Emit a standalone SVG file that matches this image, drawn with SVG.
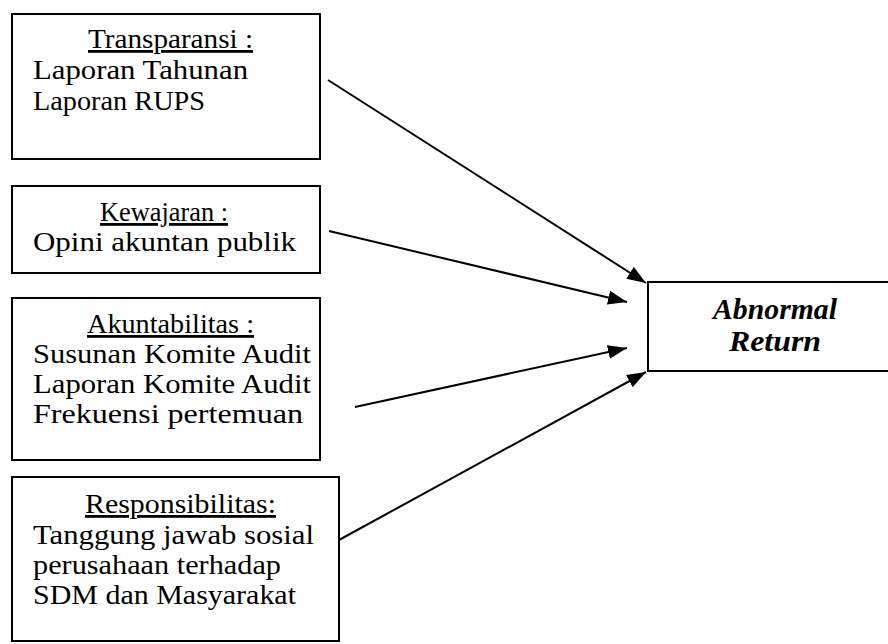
<svg xmlns="http://www.w3.org/2000/svg" width="888" height="644" viewBox="0 0 888 644">
<style>
.box{fill:#fff;stroke:#000;stroke-width:2}
.t{font-family:"Liberation Serif","Times New Roman",serif;font-size:28px;fill:#000}
.h{text-decoration:underline}
.ab{font-family:"Liberation Serif","Times New Roman",serif;font-size:29px;font-weight:bold;font-style:italic;fill:#000}
.c{fill:none;stroke:#000;stroke-width:2}
</style>
<defs>
<marker id="ah" markerUnits="userSpaceOnUse" markerWidth="20" markerHeight="14" refX="19" refY="7" orient="auto">
<path d="M0,0 L19,7 L0,14 Z" fill="#000"/>
</marker>
</defs>
<rect width="888" height="644" fill="#fff"/>
<g id="connectors">
<line class="c" x1="328" y1="80" x2="646" y2="283" marker-end="url(#ah)"/>
<line class="c" x1="329" y1="231" x2="627" y2="302" marker-end="url(#ah)"/>
<line class="c" x1="355" y1="407" x2="627" y2="348" marker-end="url(#ah)"/>
<line class="c" x1="339" y1="540" x2="646" y2="372" marker-end="url(#ah)"/>
</g>
<g id="transparansi">
<rect class="box" x="12" y="14" width="308" height="145"/>
<text class="t h" x="88" y="48" textLength="165" lengthAdjust="spacingAndGlyphs">Transparansi :</text>
<text class="t" x="33" y="79" textLength="215" lengthAdjust="spacingAndGlyphs">Laporan Tahunan</text>
<text class="t" x="33" y="110" textLength="172" lengthAdjust="spacingAndGlyphs">Laporan RUPS</text>
</g>
<g id="kewajaran">
<rect class="box" x="12" y="186" width="308" height="87"/>
<text class="t h" x="100" y="221" textLength="128" lengthAdjust="spacingAndGlyphs">Kewajaran :</text>
<text class="t" x="33" y="251" textLength="263" lengthAdjust="spacingAndGlyphs">Opini akuntan publik</text>
</g>
<g id="akuntabilitas">
<rect class="box" x="12" y="298" width="308" height="162"/>
<text class="t h" x="87" y="333" textLength="167" lengthAdjust="spacingAndGlyphs">Akuntabilitas :</text>
<text class="t" x="33" y="363" textLength="278" lengthAdjust="spacingAndGlyphs">Susunan Komite Audit</text>
<text class="t" x="33" y="393" textLength="278" lengthAdjust="spacingAndGlyphs">Laporan Komite Audit</text>
<text class="t" x="33" y="423" textLength="270" lengthAdjust="spacingAndGlyphs">Frekuensi pertemuan</text>
</g>
<g id="responsibilitas">
<rect class="box" x="12" y="477" width="327" height="164"/>
<text class="t h" x="85" y="513" textLength="191" lengthAdjust="spacingAndGlyphs">Responsibilitas:</text>
<text class="t" x="33" y="544" textLength="281" lengthAdjust="spacingAndGlyphs">Tanggung jawab sosial</text>
<text class="t" x="33" y="574" textLength="248" lengthAdjust="spacingAndGlyphs">perusahaan terhadap</text>
<text class="t" x="33" y="604" textLength="263" lengthAdjust="spacingAndGlyphs">SDM dan Masyarakat</text>
</g>
<g id="abnormal-return">
<rect class="box" x="648" y="282" width="260" height="89"/>
<text class="ab" x="775" y="319" text-anchor="middle" textLength="124" lengthAdjust="spacingAndGlyphs">Abnormal</text>
<text class="ab" x="775" y="351" text-anchor="middle" textLength="92" lengthAdjust="spacingAndGlyphs">Return</text>
</g>
</svg>
